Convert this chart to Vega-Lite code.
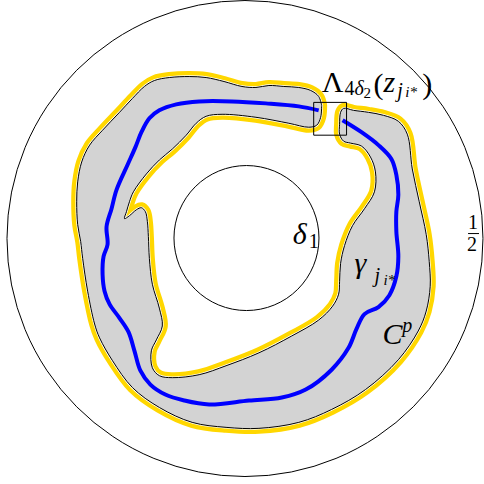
{
  "$schema": "https://vega.github.io/schema/vega-lite/v6.json",
  "width": 484,
  "height": 484,
  "padding": 0,
  "autosize": {"type": "fit", "contains": "padding"},
  "background": "white",
  "config": {"view": {"stroke": null}},
  "datasets": {
    "circles_outer": [{"x": 246, "y": 237}],
    "circles_inner": [{"x": 247.5, "y": 236.5}],
    "region": [
      {"x":323,"y":103},{"x":320,"y":94},{"x":312,"y":88},{"x":300,"y":85},{"x":285,"y":84},{"x":270,"y":83},{"x":257,"y":85},{"x":243,"y":84},{"x":225,"y":79},{"x":207,"y":75},{"x":190,"y":74},{"x":170,"y":75},{"x":155,"y":78},{"x":145,"y":84},{"x":133,"y":96},{"x":120,"y":110},{"x":103,"y":128},{"x":90,"y":143},{"x":82,"y":160},{"x":78,"y":180},{"x":77,"y":200},{"x":78,"y":223},{"x":81,"y":240},{"x":83,"y":257},{"x":88,"y":290},{"x":95,"y":323},{"x":100,"y":337},{"x":113,"y":360},{"x":133,"y":387},{"x":160,"y":407},{"x":193,"y":422},{"x":227,"y":427},{"x":260,"y":428},{"x":300,"y":422},{"x":333,"y":409},{"x":367,"y":389},{"x":400,"y":359},{"x":420,"y":330},{"x":428,"y":310},{"x":432,"y":285},{"x":431,"y":260},{"x":428,"y":233},{"x":421,"y":200},{"x":414,"y":167},{"x":409,"y":132},{"x":400,"y":119},{"x":385,"y":113},{"x":370,"y":110},{"x":355,"y":108},{"x":345,"y":106},{"x":342,"y":110},{"x":341,"y":122},{"x":341,"y":132},{"x":345,"y":139},{"x":352,"y":141},{"x":363,"y":144},{"x":372,"y":155},{"x":377,"y":170},{"x":376,"y":190},{"x":366,"y":207},{"x":354,"y":224},{"x":346,"y":244},{"x":342,"y":262},{"x":341,"y":280},{"x":340,"y":293},{"x":334,"y":305},{"x":320,"y":319},{"x":293,"y":335},{"x":260,"y":352},{"x":227,"y":365},{"x":200,"y":374},{"x":173,"y":377},{"x":160,"y":375},{"x":153,"y":367},{"x":152,"y":350},{"x":157,"y":339},{"x":163,"y":325},{"x":160,"y":307},{"x":153,"y":283},{"x":150,"y":257},{"x":149,"y":235},{"x":148,"y":220},{"x":146,"y":210},{"x":142,"y":206},{"x":137,"y":208},{"x":130,"y":214},{"x":125,"y":217},{"x":127,"y":210},{"x":130,"y":200},{"x":134,"y":190},{"x":147,"y":172},{"x":160,"y":158},{"x":173,"y":147},{"x":187,"y":133},{"x":197,"y":121},{"x":207,"y":114},{"x":223,"y":112},{"x":257,"y":115},{"x":290,"y":121},{"x":310,"y":125},{"x":318,"y":123},{"x":322,"y":115},{"x":323,"y":103}
    ],
    "blue": [
      {"x":320,"y":108},{"x":300,"y":104},{"x":267,"y":101},{"x":233,"y":99},{"x":200,"y":99},{"x":177,"y":102},{"x":160,"y":108},{"x":150,"y":116},{"x":142,"y":130},{"x":136,"y":145},{"x":128,"y":163},{"x":117,"y":188},{"x":112,"y":207},{"x":107,"y":225},{"x":108,"y":243},{"x":104,"y":255},{"x":103,"y":273},{"x":105,"y":290},{"x":110,"y":303},{"x":120,"y":317},{"x":129,"y":331},{"x":135,"y":350},{"x":141,"y":370},{"x":151,"y":384},{"x":166,"y":394},{"x":185,"y":400},{"x":210,"y":404},{"x":250,"y":400},{"x":283,"y":397},{"x":307,"y":389},{"x":333,"y":369},{"x":350,"y":347},{"x":358,"y":328},{"x":366,"y":313},{"x":380,"y":306},{"x":391,"y":294},{"x":398,"y":275},{"x":400,"y":255},{"x":398,"y":230},{"x":398,"y":210},{"x":400,"y":193},{"x":398,"y":173},{"x":393,"y":157},{"x":380,"y":143},{"x":363,"y":130},{"x":344,"y":118}
    ],
    "square": [{"x": 315, "x2": 348, "y": 100, "y2": 133}],
    "bar": [{"x": 470, "x2": 481, "y": 232}],
    "t_up_big": [{"x":323,"y":90,"t":"Λ"},{"x":375,"y":92,"t":"("},{"x":424,"y":92,"t":")"}],
    "t_it_big": [{"x":385,"y":90,"t":"z"},{"x":294,"y":243,"t":"δ"},{"x":356,"y":272,"t":"γ"},{"x":384,"y":343,"t":"C"}],
    "t_up_sub": [{"x":346,"y":93,"t":"4"},{"x":310,"y":247,"t":"1"},{"x":470,"y":227,"t":"1"},{"x":469,"y":250,"t":"2"}],
    "t_it_sub": [{"x":356,"y":93,"t":"δ"},{"x":399,"y":95,"t":"j"},{"x":376,"y":281,"t":"j"},{"x":404,"y":331,"t":"p"}],
    "t_up_subsub": [{"x":365,"y":96,"t":"2"}],
    "t_it_subsub": [{"x":407,"y":95,"t":"i*"},{"x":385,"y":284,"t":"i*"}]
  },
  "encoding": {
    "x": {"field": "x", "type": "quantitative", "scale": {"domain": [0, 484], "nice": false, "zero": false}, "axis": null},
    "y": {"field": "y", "type": "quantitative", "scale": {"domain": [0, 484], "reverse": true, "nice": false, "zero": false}, "axis": null}
  },
  "layer": [
    {"data": {"name": "circles_outer"}, "mark": {"type": "point", "shape": "circle", "size": 226576, "filled": false, "stroke": "black", "strokeWidth": 1, "opacity": 1}},
    {"data": {"name": "circles_inner"}, "mark": {"type": "point", "shape": "circle", "size": 21025, "filled": false, "stroke": "black", "strokeWidth": 1, "opacity": 1}},
    {"data": {"name": "region"}, "mark": {"type": "line", "interpolate": "catmull-rom", "stroke": "#FFD700", "strokeWidth": 11, "strokeJoin": "round", "strokeCap": "round"}, "encoding": {"order": {"value": null}}},
    {"data": {"name": "region"}, "mark": {"type": "line", "interpolate": "catmull-rom", "stroke": "white", "strokeWidth": 2.5, "strokeJoin": "round", "strokeCap": "round"}, "encoding": {"order": {"value": null}}},
    {"data": {"name": "region"}, "mark": {"type": "line", "interpolate": "catmull-rom", "stroke": "black", "fill": "#d3d3d3", "strokeWidth": 1, "strokeJoin": "round"}, "encoding": {"order": {"value": null}}},
    {"data": {"name": "blue"}, "mark": {"type": "line", "interpolate": "catmull-rom", "stroke": "#0000FF", "strokeWidth": 4, "strokeJoin": "round", "strokeCap": "butt"}, "encoding": {"order": {"value": null}}},
    {"data": {"name": "square"}, "mark": {"type": "rect", "filled": false, "stroke": "black", "strokeWidth": 1}, "encoding": {"x2": {"field": "x2"}, "y2": {"field": "y2"}}},
    {"data": {"name": "bar"}, "mark": {"type": "rule", "stroke": "black", "strokeWidth": 1}, "encoding": {"x2": {"field": "x2"}}},
    {"data": {"name": "t_up_big"}, "mark": {"type": "text", "font": "Liberation Serif, DejaVu Serif, serif", "fontSize": 30, "align": "left", "baseline": "alphabetic", "color": "black"}, "encoding": {"text": {"field": "t"}}},
    {"data": {"name": "t_it_big"}, "mark": {"type": "text", "font": "Liberation Serif, DejaVu Serif, serif", "fontStyle": "italic", "fontSize": 30, "align": "left", "baseline": "alphabetic", "color": "black"}, "encoding": {"text": {"field": "t"}}},
    {"data": {"name": "t_up_sub"}, "mark": {"type": "text", "font": "Liberation Serif, DejaVu Serif, serif", "fontSize": 20, "align": "left", "baseline": "alphabetic", "color": "black"}, "encoding": {"text": {"field": "t"}}},
    {"data": {"name": "t_it_sub"}, "mark": {"type": "text", "font": "Liberation Serif, DejaVu Serif, serif", "fontStyle": "italic", "fontSize": 20, "align": "left", "baseline": "alphabetic", "color": "black"}, "encoding": {"text": {"field": "t"}}},
    {"data": {"name": "t_up_subsub"}, "mark": {"type": "text", "font": "Liberation Serif, DejaVu Serif, serif", "fontSize": 15, "align": "left", "baseline": "alphabetic", "color": "black"}, "encoding": {"text": {"field": "t"}}},
    {"data": {"name": "t_it_subsub"}, "mark": {"type": "text", "font": "Liberation Serif, DejaVu Serif, serif", "fontStyle": "italic", "fontSize": 15, "align": "left", "baseline": "alphabetic", "color": "black"}, "encoding": {"text": {"field": "t"}}}
  ]
}
